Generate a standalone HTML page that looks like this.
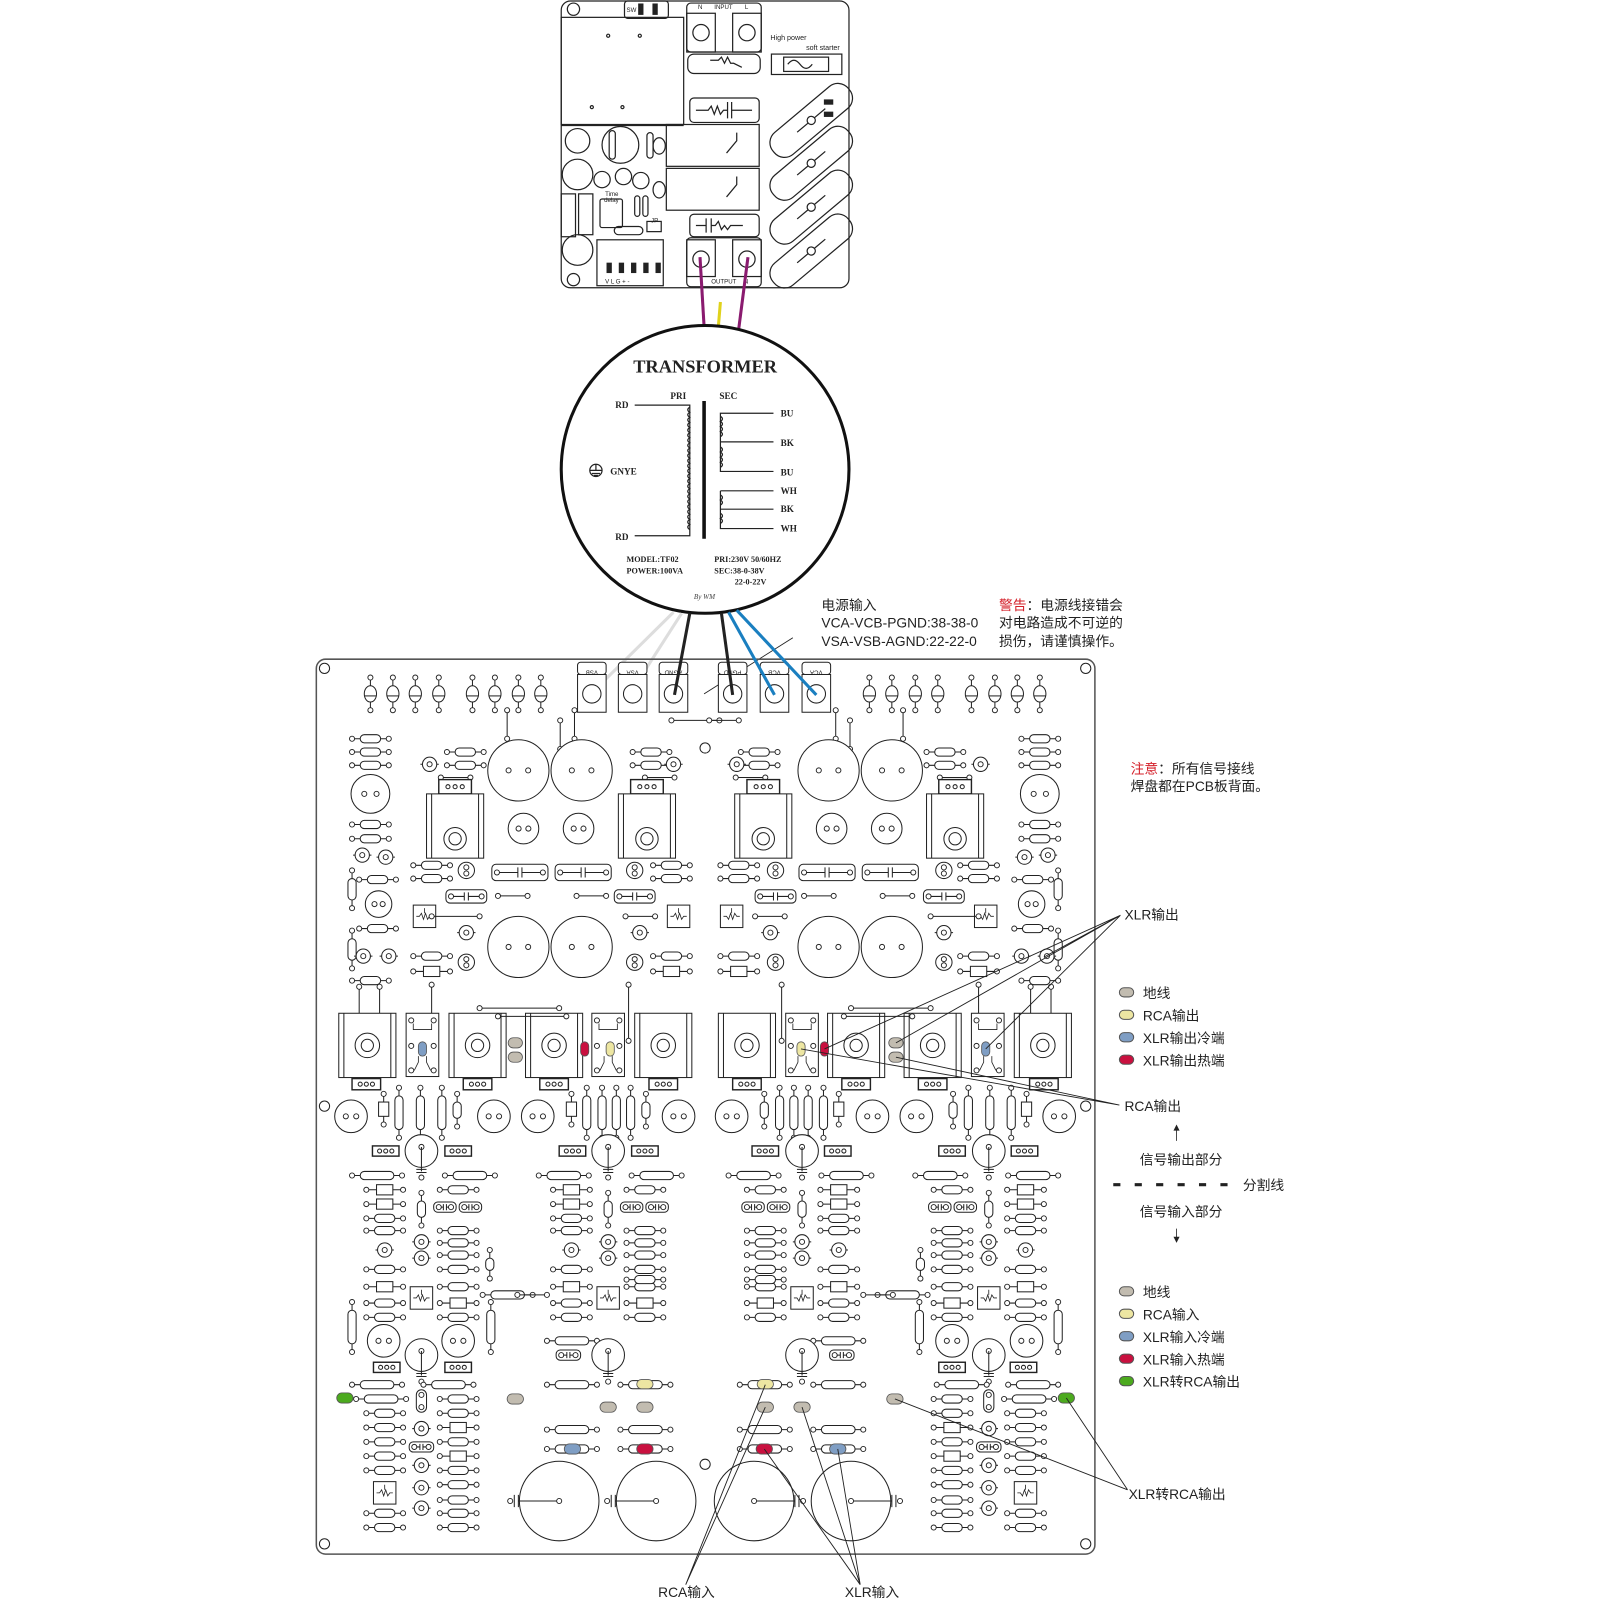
<!DOCTYPE html>
<html><head><meta charset="utf-8">
<style>
html,body{margin:0;padding:0;background:#fff;}
svg{display:block;}
.cn{font-family:"Liberation Sans","Noto Sans CJK SC",sans-serif;fill:#222;}
.sf{font-family:"Liberation Serif","DejaVu Serif",serif;font-weight:bold;fill:#222;}
</style></head>
<body>
<svg xmlns="http://www.w3.org/2000/svg" width="1600" height="1600" viewBox="0 0 1568 1568">
<defs>
<circle id="o" r="2.5" stroke-width=".9"/>
<g id="r36"><path d="M0 0H36"/><use href="#o"/><use href="#o" x="36"/><rect x="8" y="-4" width="20" height="8" rx="4"/></g>
<g id="d36"><path d="M0 0H36"/><use href="#o"/><use href="#o" x="36"/><rect x="10" y="-5" width="16" height="10"/></g>
<g id="r49"><path d="M0 0H49"/><use href="#o"/><use href="#o" x="49"/><rect x="8" y="-4" width="33" height="8" rx="4"/></g>
<g id="vr36"><path d="M0 0V37"/><use href="#o"/><use href="#o" y="37"/><rect x="-4" y="8" width="8" height="21" rx="4"/></g>
<g id="vr49"><path d="M0 0V49"/><use href="#o"/><use href="#o" y="49"/><rect x="-4" y="8" width="8" height="33" rx="4"/></g>
<g id="vr32"><path d="M0 0V32"/><use href="#o"/><use href="#o" y="32"/><rect x="-4" y="8" width="8" height="16" rx="4"/></g>
<g id="vr28"><path d="M0 0V28"/><use href="#o"/><use href="#o" y="28"/><rect x="-4" y="8" width="8" height="12" rx="4"/></g>
<g id="vd30"><path d="M0 0V30"/><use href="#o"/><use href="#o" y="30"/><rect x="-5" y="8" width="10" height="14"/></g>
<g id="tr"><circle r="7"/><use href="#o"/><path d="M-9 0h2M7 0h2"/></g>
<g id="tr2"><circle r="8"/><use href="#o" y="-3"/><use href="#o" y="3"/></g>
<g id="pin"><path d="M0 -16V16"/><use href="#o" y="-16"/><use href="#o" y="16"/><ellipse rx="6" ry="8"/><path d="M-6 2H6"/></g>
<g id="wh29"><path d="M0 0H29"/><use href="#o"/><use href="#o" x="29"/></g>
<g id="wh47"><path d="M0 0H47"/><use href="#o"/><use href="#o" x="47"/></g>
<g id="wv28"><path d="M0 0V28"/><use href="#o"/><use href="#o" y="28"/></g>
<g id="wv55"><path d="M0 0V55"/><use href="#o"/><use href="#o" y="55"/></g>
<g id="cb55"><rect width="55" height="16" rx="4"/><use href="#o" x="5" y="8"/><use href="#o" x="50" y="8"/><path d="M7 8H25.5M29.5 8H48M25.5 3V13M29.5 3V13"/></g>
<g id="cb40"><rect width="40" height="13" rx="4"/><use href="#o" x="5" y="6.5"/><use href="#o" x="35" y="6.5"/><path d="M7 6.5H18M22 6.5H33M18 2.5V10.5M22 2.5V10.5"/></g>
<g id="cb22"><rect width="22" height="10" rx="4"/><use href="#o" x="5" y="5"/><use href="#o" x="17" y="5"/><path d="M7 5H9.5M12.5 5H15M9.5 2V8M12.5 2V8"/></g>
<g id="cb24"><rect width="24" height="10" rx="4"/><use href="#o" x="5" y="5"/><use href="#o" x="19" y="5"/><path d="M7 5H10.5M13.5 5H17M10.5 2V8M13.5 2V8"/></g>
<g id="tab32"><rect width="32" height="14" stroke-width="1.4"/><circle cx="9" cy="7" r="2" fill="none"/><circle cx="16" cy="7" r="2" fill="none"/><circle cx="23" cy="7" r="2" fill="none"/></g>
<g id="tab28"><rect width="28" height="11" stroke-width="1.4"/><circle cx="8" cy="5.5" r="2" fill="none"/><circle cx="14" cy="5.5" r="2" fill="none"/><circle cx="20" cy="5.5" r="2" fill="none"/></g>
<g id="tab26"><rect width="26" height="10" stroke-width="1.4"/><circle cx="7" cy="5" r="2" fill="none"/><circle cx="13" cy="5" r="2" fill="none"/><circle cx="19" cy="5" r="2" fill="none"/></g>
<g id="hs"><rect width="56" height="63"/><path d="M5 0V63M51 0V63"/><circle cx="28" cy="44" r="11"/><circle cx="28" cy="44" r="6"/></g>
<g id="hs2"><rect width="56" height="63"/><path d="M5 0V63M51 0V63"/><circle cx="28" cy="31.5" r="12"/><circle cx="28" cy="31.5" r="6"/></g>
<g id="mod"><rect width="32" height="62"/><path d="M7 10v6h18v-6M8 56L12 48M24 56L20 48M12 48v-6M20 48v-6" fill="none" stroke-width=".8"/><use href="#o" x="5" y="7"/><use href="#o" x="27" y="7"/><use href="#o" x="5" y="32"/><use href="#o" x="27" y="32"/><use href="#o" x="5" y="56"/><use href="#o" x="27" y="56"/></g>
<g id="tp"><rect width="22" height="22"/><path d="M3 11h3l2-3l2 6l2-6l2 6l2-3h3M11 3v5" fill="none" stroke-width=".8"/></g>
<g id="ecap"><circle r="16"/><use href="#o" y="-4"/><path d="M0 -4V20M-5 18H5M-5 21H5"/><use href="#o" y="26"/></g>
<g id="c30"><circle r="30"/><use href="#o" x="-9.6"/><use href="#o" x="9.6"/></g>
<g id="c19"><circle r="19"/><use href="#o" x="-6"/><use href="#o" x="6"/></g>
<g id="c16"><circle r="16"/><use href="#o" x="-5.1"/><use href="#o" x="5.1"/></g>
<g id="c15"><circle r="15"/><use href="#o" x="-4.8"/><use href="#o" x="4.8"/></g>
<g id="c13"><circle r="13"/><use href="#o" x="-4"/><use href="#o" x="4"/></g>
<g id="big"><circle r="39"/><path d="M0 0H-40M-40 -6V6M-44 -6V6"/><use href="#o"/><use href="#o" x="-48"/></g>
<g id="chU">
<use href="#ecap" y="1128"/>
<use href="#tab26" x="-48" y="1123"/><use href="#tab26" x="23" y="1123"/>
<use href="#r49" x="-68" y="1152"/><use href="#r49" x="23" y="1152"/>
<use href="#d36" x="-54" y="1166"/><use href="#d36" x="-54" y="1180"/><use href="#r36" x="-54" y="1194"/><use href="#r36" x="-54" y="1206"/><use href="#tr" x="-36" y="1225"/><use href="#r36" x="-54" y="1244"/><use href="#d36" x="-54" y="1261"/><use href="#r36" x="-54" y="1277"/><use href="#r36" x="-54" y="1291"/>
<use href="#vr32" y="1169"/><use href="#tr" y="1217"/><use href="#tr" y="1233"/><use href="#tp" x="-11" y="1261"/>
<use href="#r36" x="18" y="1166"/><use href="#cb22" x="12" y="1178"/><use href="#cb22" x="37" y="1178"/><use href="#r36" x="18" y="1206"/><use href="#r36" x="18" y="1218"/><use href="#r36" x="18" y="1230"/><use href="#r36" x="18" y="1244"/><use href="#r36" x="18" y="1261"/><use href="#d36" x="18" y="1277"/><use href="#r36" x="18" y="1291"/>
</g>
</defs>
<rect width="1568" height="1568" fill="#fff"/>
<!-- ===== Top soft starter board ===== -->
<g fill="none" stroke="#222" stroke-width="1.2">
<rect x="550" y="1" width="282" height="281" rx="9"/>
<circle cx="562" cy="9" r="6"/><circle cx="562" cy="274" r="6"/>
<rect x="550" y="17" width="120" height="105"/>
<rect x="612" y="1" width="43" height="17" rx="3"/>
<rect x="626" y="4" width="4" height="10" fill="#222"/><rect x="640" y="4" width="4" height="10" fill="#222"/>
<circle cx="596" cy="35" r="1.5"/><circle cx="627" cy="35" r="1.5"/><circle cx="580" cy="105" r="1.5"/><circle cx="610" cy="105" r="1.5"/>
<rect x="673" y="3" width="73" height="48" rx="4"/>
<rect x="673" y="13" width="28" height="38"/><rect x="718" y="13" width="28" height="38"/>
<circle cx="687" cy="32" r="8"/><circle cx="732" cy="32" r="8"/>
<rect x="674" y="53" width="71" height="19" rx="6"/>
<path d="M696 59 l8 0 l3 -3 l3 6 l3 -6 l3 6 l3 0 l8 4"/>
<rect x="756" y="53" width="69" height="20"/><rect x="768" y="56" width="44" height="14"/>
<path d="M772 63 q6 -8 12 0 q6 8 12 0"/>
<rect x="676" y="96" width="68" height="24" rx="4"/>
<path d="M682 108 h12 l3 -4 l3 8 l3 -8 l3 8 l3 -4 h4 M713 100 v16 M717 100 v16 M717 108 h20"/>
<rect x="653" y="122" width="91" height="41"/>
<rect x="653" y="165" width="91" height="41"/>
<path d="M712 150 l10 -12 v-8 M712 193 l10 -12 v-8"/>
<rect x="676" y="210" width="68" height="22" rx="4"/>
<path d="M682 221 h10 M692 214 v14 M697 214 v14 M697 221 h4 l3 -4 l3 8 l3 -4 l3 4 l3 -4 h12"/>
<rect x="673" y="233" width="73" height="48" rx="4"/>
<rect x="673" y="235" width="28" height="36"/><rect x="718" y="235" width="28" height="36"/>
<circle cx="687" cy="254" r="8"/><circle cx="732" cy="254" r="8"/>
<g transform="translate(795,118) rotate(-40)"><rect x="-48" y="-14" width="96" height="28" rx="13"/><circle cx="0" cy="0" r="4"/><path d="M-18 0 h14 M4 0 h14"/></g>
<g transform="translate(795,160) rotate(-40)"><rect x="-48" y="-14" width="96" height="28" rx="13"/><circle cx="0" cy="0" r="4"/><path d="M-18 0 h14 M4 0 h14"/></g>
<g transform="translate(795,203) rotate(-40)"><rect x="-48" y="-14" width="96" height="28" rx="13"/><circle cx="0" cy="0" r="4"/><path d="M-18 0 h14 M4 0 h14"/></g>
<g transform="translate(795,246) rotate(-40)"><rect x="-48" y="-14" width="96" height="28" rx="13"/><circle cx="0" cy="0" r="4"/><path d="M-18 0 h14 M4 0 h14"/></g>
<rect x="808" y="98" width="8" height="4" fill="#222"/><rect x="808" y="110" width="8" height="4" fill="#222"/>
<path d="M550 123 h120"/>
<circle cx="566" cy="138" r="12"/><circle cx="608" cy="142" r="18"/><circle cx="566" cy="171" r="15"/>
<circle cx="590" cy="176" r="8"/><circle cx="611" cy="173" r="8"/><circle cx="628" cy="177" r="8"/>
<rect x="597" y="128" width="6" height="28" rx="3"/><rect x="634" y="130" width="6" height="25" rx="3"/>
<ellipse cx="646" cy="143" rx="6" ry="8"/><ellipse cx="646" cy="186" rx="6" ry="8"/>
<rect x="588" y="195" width="22" height="28" rx="2"/>
<rect x="622" y="192" width="5" height="20" rx="2.5"/><rect x="630" y="192" width="5" height="20" rx="2.5"/>
<rect x="550" y="190" width="14" height="42"/><rect x="567" y="190" width="14" height="40"/>
<rect x="602" y="222" width="28" height="8" rx="4"/><rect x="634" y="217" width="14" height="10"/>
<circle cx="566" cy="245" r="15"/>
<rect x="585" y="235" width="65" height="45"/>
<rect x="595" y="258" width="4" height="9" fill="#222"/><rect x="607" y="258" width="4" height="9" fill="#222"/><rect x="619" y="258" width="4" height="9" fill="#222"/><rect x="631" y="258" width="4" height="9" fill="#222"/><rect x="643" y="258" width="4" height="9" fill="#222"/>
</g>
<g font-family="Liberation Sans,sans-serif" font-size="6" fill="#222">
<text x="614" y="12">SW</text><text x="684" y="9">N</text><text x="700" y="9">INPUT</text><text x="730" y="9">L</text>
<text x="755" y="39" font-size="7">High power</text><text x="790" y="49" font-size="7">soft starter</text>
<text x="593" y="192">Time</text><text x="592" y="198">delay</text><text x="638" y="218">JP</text>
<text x="593" y="278">V  L  G  +  -</text><text x="697" y="278">OUTPUT</text><text x="729" y="278">N</text>
</g>
<path d="M686 252 L690 320" stroke="#8a1b6f" stroke-width="3" fill="none"/>
<path d="M733 252 L724 322" stroke="#8a1b6f" stroke-width="3" fill="none"/>
<path d="M706 296 L704 320" stroke="#e0d21c" stroke-width="3" fill="none"/>
<!-- ===== Transformer ===== -->
<circle cx="691" cy="460" r="141" fill="#fff" stroke="#111" stroke-width="3"/>
<text class="sf" x="691" y="365" font-size="18" text-anchor="middle">TRANSFORMER</text>
<g class="sf" font-size="9">
<text x="657" y="391">PRI</text><text x="705" y="391">SEC</text>
<text x="603" y="400">RD</text><text x="603" y="529">RD</text><text x="598" y="465">GNYE</text>
<text x="765" y="408">BU</text><text x="765" y="437">BK</text><text x="765" y="466">BU</text>
<text x="765" y="484">WH</text><text x="765" y="502">BK</text><text x="765" y="521">WH</text>
<text x="614" y="551" font-size="8">MODEL:TF02</text><text x="614" y="562" font-size="8">POWER:100VA</text>
<text x="700" y="551" font-size="8">PRI:230V  50/60HZ</text><text x="700" y="562" font-size="8">SEC:38-0-38V</text><text x="720" y="573" font-size="8">22-0-22V</text>
</g>
<text x="680" y="587" font-size="7" font-style="italic" font-family="Liberation Serif,serif" fill="#444">By WM</text>
<g fill="none" stroke="#222" stroke-width="1.2">
<circle cx="584" cy="461" r="6"/><path d="M578 461 h12 M584 455 v6 M580 464 h8 M582 466 h4"/>
<path d="M622 397 H676 V525 H622"/>
<path d="M676 399 q-4 2.5 0 5 q-4 2.5 0 5 q-4 2.5 0 5 q-4 2.5 0 5 q-4 2.5 0 5 q-4 2.5 0 5 q-4 2.5 0 5 q-4 2.5 0 5 q-4 2.5 0 5 q-4 2.5 0 5 q-4 2.5 0 5 q-4 2.5 0 5 q-4 2.5 0 5 q-4 2.5 0 5 q-4 2.5 0 5 q-4 2.5 0 5 q-4 2.5 0 5 q-4 2.5 0 5 q-4 2.5 0 5 q-4 2.5 0 5 q-4 2.5 0 5 q-4 2.5 0 5 q-4 2.5 0 5 q-4 2.5 0 5"/>
<path d="M758 405 H706 V462 H758 M706 433 H758 M706 481 H758 M706 481 V518 H758 M706 499 H758"/>
<path d="M706 408 q4 2.5 0 5 q4 2.5 0 5 q4 2.5 0 5 q4 2.5 0 5 M706 438 q4 2.5 0 5 q4 2.5 0 5 q4 2.5 0 5 q4 2.5 0 5 M706 485 q4 2.5 0 5 q4 2.5 0 5 M706 503 q4 2.5 0 5 q4 2.5 0 5"/>
</g>
<path d="M690 393 V528" stroke="#111" stroke-width="3.5"/>
<g fill="none" stroke-width="3">
<path d="M660 600 L580 679" stroke="#ddd"/>
<path d="M668 601 L618 679" stroke="#ddd"/>
</g>
<path d="M690 680 L777 625" stroke="#222" stroke-width="0.9"/>
<!-- texts -->
<g class="cn" font-size="13.5">
<text x="805" y="598">电源输入</text>
<text x="805" y="615">VCA-VCB-PGND:38-38-0</text>
<text x="805" y="633">VSA-VSB-AGND:22-22-0</text>
<text x="979" y="598"><tspan fill="#d4202a">警告</tspan>：电源线接错会</text>
<text x="979" y="615">对电路造成不可逆的</text>
<text x="979" y="633">损伤，请谨慎操作。</text>
<text x="1108" y="758"><tspan fill="#d4202a">注意</tspan>：所有信号接线</text>
<text x="1108" y="775">焊盘都在PCB板背面。</text>
<text x="1102" y="901">XLR输出</text>
<text x="1120" y="978">地线</text><text x="1120" y="1000">RCA输出</text><text x="1120" y="1022">XLR输出冷端</text><text x="1120" y="1044">XLR输出热端</text>
<text x="1102" y="1089">RCA输出</text>
<text x="1117" y="1141">信号输出部分</text>
<text x="1218" y="1166">分割线</text>
<text x="1117" y="1192">信号输入部分</text>
<text x="1120" y="1271">地线</text><text x="1120" y="1293">RCA输入</text><text x="1120" y="1315">XLR输入冷端</text><text x="1120" y="1337">XLR输入热端</text><text x="1120" y="1359">XLR转RCA输出</text>
<text x="1106" y="1469">XLR转RCA输出</text>
<text x="645" y="1565">RCA输入</text>
<text x="828" y="1565">XLR输入</text>
</g>
<g stroke="#222">
<path d="M1091 1161 H1210" stroke-width="3" stroke-dasharray="7,14"/>
<path d="M1153 1106 V1118" stroke-width="0.8"/><path d="M1150 1108 l3 -6 l3 6z" fill="#222" stroke="none"/>
<path d="M1153 1204 V1214" stroke-width="0.8"/><path d="M1150 1212 l3 6 l3 -6z" fill="#222" stroke="none"/>
</g>
<g stroke="#555" stroke-width="1">
<rect x="1097" y="968" width="14" height="9" rx="4.5" fill="#c2bcb0"/>
<rect x="1097" y="990" width="14" height="9" rx="4.5" fill="#ede6a2"/>
<rect x="1097" y="1012" width="14" height="9" rx="4.5" fill="#7f9ec4"/>
<rect x="1097" y="1034" width="14" height="9" rx="4.5" fill="#c9103f"/>
<rect x="1097" y="1261" width="14" height="9" rx="4.5" fill="#c2bcb0"/>
<rect x="1097" y="1283" width="14" height="9" rx="4.5" fill="#ede6a2"/>
<rect x="1097" y="1305" width="14" height="9" rx="4.5" fill="#7f9ec4"/>
<rect x="1097" y="1327" width="14" height="9" rx="4.5" fill="#c9103f"/>
<rect x="1097" y="1349" width="14" height="9" rx="4.5" fill="#4caa1e"/>
</g>
<!-- ===== Main PCB ===== -->
<rect x="310" y="646" width="763" height="877" rx="9" fill="none" stroke="#555" stroke-width="1.5"/>
<g fill="#fff" stroke="#222" stroke-width="1">
<g id="L">
<use href="#pin" x="363" y="680"/><use href="#pin" x="385" y="680"/><use href="#pin" x="407" y="680"/><use href="#pin" x="430" y="680"/>
<use href="#pin" x="463" y="680"/><use href="#pin" x="485" y="680"/><use href="#pin" x="508" y="680"/><use href="#pin" x="530" y="680"/>
<use href="#r36" x="345" y="724"/><use href="#r36" x="345" y="737"/><use href="#r36" x="345" y="750"/>
<use href="#c19" x="363" y="778"/>
<use href="#r36" x="345" y="808"/><use href="#r36" x="345" y="822"/><use href="#tr" x="355" y="838"/><use href="#tr" x="378" y="840"/>
<use href="#vr36" x="345" y="853"/><use href="#r36" x="352" y="862"/><use href="#c13" x="371" y="886"/><use href="#r36" x="352" y="910"/><use href="#vr36" x="345" y="912"/>
<use href="#tr" x="356" y="937"/><use href="#tr" x="381" y="937"/><use href="#r36" x="345" y="961"/>
<use href="#wv55" x="352" y="967"/><use href="#wv55" x="372" y="967"/>
<use href="#r36" x="438" y="737"/><use href="#r36" x="438" y="750"/><use href="#tr" x="421" y="749"/><use href="#wh29" x="432" y="762"/>
<use href="#tab32" x="430" y="764"/><use href="#hs" x="418" y="778"/>
<use href="#wv28" x="497" y="696"/><use href="#wv28" x="549" y="706"/><use href="#wv28" x="563" y="696"/>
<use href="#c30" x="508" y="755"/><use href="#c30" x="570" y="755"/>
<use href="#c15" x="513" y="812"/><use href="#c15" x="567" y="812"/>
<use href="#r36" x="620" y="737"/><use href="#r36" x="620" y="750"/><use href="#tr" x="660" y="749"/><use href="#wh29" x="632" y="762"/>
<use href="#tab32" x="618" y="764"/><use href="#hs" x="606" y="778"/>
<use href="#r36" x="405" y="848"/><use href="#r36" x="405" y="861"/><use href="#tr2" x="457" y="853"/>
<use href="#cb55" x="482" y="847"/><use href="#cb55" x="544" y="847"/>
<use href="#tr2" x="622" y="853"/><use href="#r36" x="640" y="848"/><use href="#r36" x="640" y="861"/>
<use href="#cb40" x="437" y="872"/><use href="#wh29" x="488" y="878"/><use href="#wh29" x="565" y="878"/><use href="#cb40" x="602" y="872"/>
<use href="#tp" x="405" y="887"/><use href="#wh47" x="423" y="898"/><use href="#tr" x="457" y="914"/><use href="#wh29" x="613" y="898"/><use href="#tp" x="654" y="887"/><use href="#tr" x="627" y="914"/>
<use href="#c30" x="508" y="928"/><use href="#c30" x="570" y="928"/>
<use href="#r36" x="405" y="937"/><use href="#d36" x="405" y="952"/><use href="#tr2" x="457" y="943"/><use href="#tr2" x="622" y="943"/><use href="#r36" x="640" y="937"/><use href="#d36" x="640" y="952"/>
<use href="#wv55" x="423" y="965"/><use href="#wv55" x="616" y="965"/>
<use href="#hs2" x="332" y="993"/><use href="#tab28" x="345" y="1057"/>
<use href="#mod" x="398" y="993"/>
<use href="#hs2" x="440" y="993"/><use href="#tab28" x="454" y="1057"/>
<use href="#hs2" x="515" y="993"/><use href="#tab28" x="529" y="1057"/>
<path d="M470 988H548M488 996H555" fill="none"/>
<use href="#o" x="470" y="988"/><use href="#o" x="548" y="988"/><use href="#o" x="488" y="996"/><use href="#o" x="555" y="996"/>
<use href="#mod" x="580" y="993"/>
<use href="#hs2" x="622" y="993"/><use href="#tab28" x="636" y="1057"/>
<use href="#vd30" x="376" y="1072"/><use href="#vr49" x="391" y="1066"/><use href="#vr49" x="412" y="1066"/><use href="#vr49" x="433" y="1066"/><use href="#vr32" x="448" y="1072"/>
<use href="#vd30" x="560" y="1072"/><use href="#vr49" x="575" y="1066"/><use href="#vr49" x="590" y="1066"/><use href="#vr49" x="604" y="1066"/><use href="#vr49" x="618" y="1066"/><use href="#vr32" x="633" y="1072"/>
<use href="#c16" x="344" y="1094"/><use href="#c16" x="484" y="1094"/><use href="#c16" x="527" y="1094"/><use href="#c16" x="665" y="1094"/>
<use href="#chU" x="413"/><use href="#chU" x="596"/>
<use href="#r36" x="614" y="1254"/>
<use href="#vr49" x="345" y="1276"/><use href="#vr49" x="481" y="1276"/><use href="#r49" x="473" y="1269"/><use href="#wh29" x="507" y="1269"/><use href="#vr28" x="480" y="1225"/>
<use href="#c16" x="376" y="1314"/><use href="#c16" x="449" y="1314"/><use href="#ecap" x="413" y="1328"/>
<use href="#tab26" x="366" y="1335"/><use href="#tab26" x="436" y="1335"/>
<use href="#r49" x="345" y="1357"/><use href="#r49" x="415" y="1357"/>
<use href="#r49" x="349" y="1371"/>
<use href="#r36" x="359" y="1385"/><use href="#r36" x="359" y="1399"/><use href="#r36" x="359" y="1413"/><use href="#r36" x="359" y="1427"/><use href="#r36" x="359" y="1441"/>
<use href="#tp" x="366" y="1452"/><use href="#r36" x="359" y="1483"/><use href="#r36" x="359" y="1497"/>
<rect x="408" y="1362" width="10" height="22" rx="5"/><use href="#o" x="413" y="1367"/><use href="#o" x="413" y="1379"/>
<use href="#tr" x="413" y="1400"/><use href="#cb24" x="401" y="1413"/><use href="#tr" x="413" y="1436"/><use href="#tr" x="413" y="1458"/><use href="#tr" x="413" y="1478"/>
<use href="#r36" x="431" y="1371"/><use href="#r36" x="431" y="1385"/><use href="#d36" x="431" y="1399"/><use href="#r36" x="431" y="1413"/><use href="#d36" x="431" y="1427"/><use href="#r36" x="431" y="1441"/><use href="#r36" x="431" y="1455"/><use href="#r36" x="431" y="1470"/><use href="#r36" x="431" y="1483"/><use href="#r36" x="431" y="1497"/>
<use href="#r49" x="536" y="1314"/><use href="#cb24" x="545" y="1323"/><use href="#ecap" x="596" y="1328"/>
<use href="#r49" x="536" y="1357"/><use href="#r49" x="608" y="1357"/>
<use href="#r49" x="536" y="1401"/><use href="#r49" x="608" y="1401"/>
<use href="#r49" x="536" y="1420"/><use href="#r49" x="608" y="1420"/>
<use href="#big" x="548" y="1471"/><use href="#big" x="643" y="1471"/>
</g>
<use href="#L" transform="translate(1382,0) scale(-1,1)"/>
</g>
<!-- connectors -->
<g fill="#fff" stroke="#222" stroke-width="1">
<rect x="566" y="649" width="28" height="12" rx="3"/><rect x="566" y="661" width="28" height="37"/><circle cx="580" cy="680" r="9"/>
<rect x="606" y="649" width="28" height="12" rx="3"/><rect x="606" y="661" width="28" height="37"/><circle cx="620" cy="680" r="9"/>
<rect x="646" y="649" width="28" height="12" rx="3"/><rect x="646" y="661" width="28" height="37"/><circle cx="660" cy="680" r="9"/>
<rect x="704" y="649" width="28" height="12" rx="3"/><rect x="704" y="661" width="28" height="37"/><circle cx="718" cy="680" r="9"/>
<rect x="745" y="649" width="28" height="12" rx="3"/><rect x="745" y="661" width="28" height="37"/><circle cx="759" cy="680" r="9"/>
<rect x="786" y="649" width="28" height="12" rx="3"/><rect x="786" y="661" width="28" height="37"/><circle cx="800" cy="680" r="9"/>
<circle cx="318" cy="655" r="5"/><circle cx="1064" cy="655" r="5"/><circle cx="318" cy="1513" r="5"/><circle cx="1064" cy="1513" r="5"/>
<circle cx="318" cy="1084" r="5"/><circle cx="1064" cy="1084" r="5"/><circle cx="691" cy="733" r="5"/><circle cx="691" cy="1435" r="5"/>
<use href="#wh47" x="658" y="706"/><use href="#wh29" x="695" y="706"/>
</g>
<g font-family="Liberation Sans,sans-serif" font-size="6" fill="#222" text-anchor="middle">
<text x="580" y="653" transform="rotate(180 580 655)">VSB</text>
<text x="620" y="653" transform="rotate(180 620 655)">VSA</text>
<text x="660" y="653" transform="rotate(180 660 655)">AGND</text>
<text x="718" y="653" transform="rotate(180 718 655)">PGND</text>
<text x="759" y="653" transform="rotate(180 759 655)">VCB</text>
<text x="800" y="653" transform="rotate(180 800 655)">VCA</text>
</g>
<g fill="none" stroke-width="3">
<path d="M676 601 L661 681" stroke="#222"/>
<path d="M707 601 L718 681" stroke="#222"/>
<path d="M714 600 L759 681" stroke="#1a7fc0"/>
<path d="M722 598 L800 681" stroke="#1a7fc0"/>
</g>
<!-- colored pads -->
<g stroke="#555" stroke-width="0.8">
<rect x="410" y="1021" width="8" height="14" rx="4" fill="#7f9ec4"/>
<rect x="498" y="1017" width="14" height="10" rx="5" fill="#c2bcb0"/>
<rect x="498" y="1031" width="14" height="10" rx="5" fill="#c2bcb0"/>
<rect x="569" y="1021" width="8" height="14" rx="4" fill="#c9103f"/>
<rect x="594" y="1021" width="8" height="14" rx="4" fill="#ede6a2"/>
<rect x="781" y="1021" width="8" height="14" rx="4" fill="#ede6a2"/>
<rect x="804" y="1021" width="8" height="14" rx="4" fill="#c9103f"/>
<rect x="871" y="1017" width="14" height="10" rx="5" fill="#c2bcb0"/>
<rect x="871" y="1031" width="14" height="10" rx="5" fill="#c2bcb0"/>
<rect x="962" y="1021" width="8" height="14" rx="4" fill="#7f9ec4"/>
<rect x="330" y="1365" width="16" height="10" rx="5" fill="#4caa1e"/>
<rect x="1037" y="1365" width="16" height="10" rx="5" fill="#4caa1e"/>
<rect x="497" y="1366" width="16" height="10" rx="5" fill="#c2bcb0"/>
<rect x="588" y="1374" width="16" height="10" rx="5" fill="#c2bcb0"/>
<rect x="624" y="1374" width="16" height="10" rx="5" fill="#c2bcb0"/>
<rect x="742" y="1374" width="16" height="10" rx="5" fill="#c2bcb0"/>
<rect x="778" y="1374" width="16" height="10" rx="5" fill="#c2bcb0"/>
<rect x="869" y="1366" width="16" height="10" rx="5" fill="#c2bcb0"/>
<rect x="624" y="1352" width="16" height="9" rx="4.5" fill="#ede6a2"/>
<rect x="742" y="1352" width="16" height="9" rx="4.5" fill="#ede6a2"/>
<rect x="553" y="1415" width="16" height="10" rx="5" fill="#7f9ec4"/>
<rect x="624" y="1415" width="16" height="10" rx="5" fill="#c9103f"/>
<rect x="741" y="1415" width="16" height="10" rx="5" fill="#c9103f"/>
<rect x="813" y="1415" width="16" height="10" rx="5" fill="#7f9ec4"/>
</g>
<g stroke="#222" stroke-width="0.9" fill="none">
<path d="M1098 897 L808 1028 M1098 897 L878 1022 M1098 897 L966 1028 M1098 897 L1023 938"/>
<path d="M1097 1083 L785 1028 M1097 1083 L878 1036"/>
<path d="M1105 1460 L1045 1370 M1105 1460 L877 1371"/>
<path d="M672 1553 L750 1357 M672 1553 L750 1379"/>
<path d="M843 1553 L749 1420 M843 1553 L786 1379 M843 1553 L821 1420"/>
</g>
</svg>
</body></html>
